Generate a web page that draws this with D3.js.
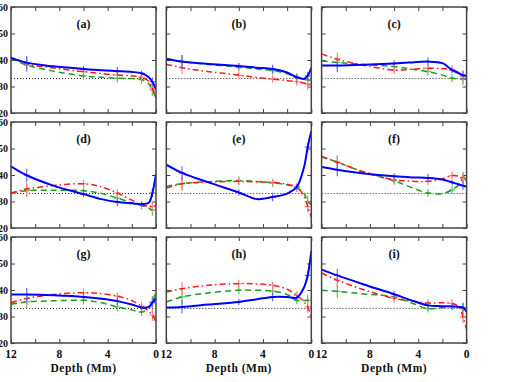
<!DOCTYPE html>
<html>
<head>
<meta charset="utf-8">
<script src="https://cdn.jsdelivr.net/npm/d3@7"></script>
<style>
  body { margin: 0; background: #fff; }
  svg { display: block; }
  text { font-family: "Liberation Serif", "DejaVu Serif", serif; font-weight: bold; fill: #111; }
</style>
</head>
<body>
<div id="chart"></div>
<script>
// depth grid (Mm) shared by every curve
var depths = [12, 10.7, 8.5, 6, 4.5, 3.2, 2, 1.2, 0.6, 0.3, 0];
// depths where error bars are drawn (indices into depths)
var errIdx = [1, 3, 5, 7, 9];
var errBlue = [2.5, 1.2, 1.6, 1.0, 1.6];
var errGreen = [2.5, 1.5, 1.5, 1.5, 2.2];
var errRed = [2.5, 1.5, 1.4, 1.5, 2.2];

var panelNames = ["(a)", "(b)", "(c)", "(d)", "(e)", "(f)", "(g)", "(h)", "(i)"];
var yTicks = [20, 30, 40, 50, 60];
var xTicks = [12, 10, 8, 6, 4, 2, 0];
var xLabels = [12, 8, 4, 0];
var refLevel = 33;

var blueA = [40.9, 39.0, 37.6, 36.6, 36.1, 35.8, 35.5, 35.0, 33.5, 31.8, 29.0];
var redA = [40.9, 38.6, 37.0, 35.6, 34.9, 34.3, 34.0, 33.5, 32.0, 29.4, 25.5];
var greenA = [40.6, 38.1, 35.8, 34.0, 33.5, 33.1, 33.0, 32.6, 31.0, 28.7, 25.5];

var blueB = [40.4, 39.4, 38.5, 37.7, 37.1, 36.6, 35.3, 33.5, 32.9, 34.0, 37.0];
var greenB = [40.6, 39.4, 38.3, 37.3, 36.6, 36.0, 34.8, 33.5, 32.8, 32.5, 32.2];
var redB = [38.4, 37.1, 35.6, 34.3, 33.4, 32.8, 32.2, 31.8, 31.3, 30.9, 30.6];

var blueC = [37.9, 37.9, 38.2, 38.7, 39.1, 39.4, 38.8, 36.2, 34.9, 34.3, 34.0];
var greenC = [39.6, 39.1, 38.3, 37.5, 36.5, 35.6, 34.3, 33.1, 32.9, 32.8, 32.8];
var redC = [42.3, 40.3, 38.0, 36.2, 36.5, 36.9, 36.7, 36.5, 35.0, 33.7, 32.9];

var blueD = [43.3, 39.9, 36.0, 32.8, 30.9, 29.8, 29.3, 29.0, 29.5, 33.2, 40.5];
var redD = [33.2, 34.7, 36.0, 36.7, 35.5, 33.2, 30.5, 28.7, 28.2, 28.1, 28.5];
var greenD = [33.0, 34.1, 34.2, 34.1, 33.0, 31.3, 29.5, 28.5, 27.5, 26.8, 28.0];

var blueE = [43.9, 40.8, 37.2, 33.4, 30.9, 31.7, 33.0, 35.5, 43.0, 50.5, 56.5];
var greenE = [35.7, 36.7, 37.5, 37.9, 37.5, 37.0, 36.3, 35.1, 33.0, 30.0, 28.8];
var redE = [35.1, 36.7, 37.3, 37.6, 37.4, 37.2, 36.5, 35.4, 32.0, 28.1, 24.1];

var blueF = [43.0, 42.0, 40.6, 39.5, 39.1, 38.9, 38.3, 37.2, 36.4, 36.0, 35.5];
var redF = [47.1, 44.8, 41.2, 38.2, 37.6, 37.6, 38.6, 39.8, 39.5, 38.6, 38.0];
var greenF = [46.8, 44.9, 41.0, 37.8, 35.2, 33.2, 33.0, 34.4, 36.5, 39.0, 40.2];

var blueG = [38.3, 38.3, 38.0, 37.4, 36.7, 35.8, 34.5, 33.4, 33.6, 35.2, 36.8];
var redG = [35.2, 36.8, 38.3, 39.0, 38.6, 37.7, 36.0, 33.9, 32.0, 30.5, 27.9];
var greenG = [34.6, 35.5, 35.9, 36.1, 35.2, 33.6, 32.5, 31.7, 33.0, 35.5, 39.2];

var blueH = [33.4, 33.6, 34.5, 35.5, 36.5, 37.4, 37.4, 37.1, 41.0, 45.5, 54.7];
var redH = [39.2, 40.5, 41.8, 42.4, 42.3, 41.8, 40.3, 38.0, 35.5, 33.6, 29.8];
var greenH = [35.5, 37.4, 38.9, 39.9, 39.9, 39.6, 38.3, 36.1, 36.0, 36.1, 36.0];

var blueI = [47.7, 45.5, 42.1, 38.4, 36.0, 34.2, 33.9, 33.8, 33.6, 33.4, 31.7];
var redI = [46.4, 43.7, 40.1, 36.8, 35.8, 35.1, 35.2, 34.9, 33.5, 29.8, 25.4];
var greenI = [39.9, 39.5, 38.5, 37.4, 35.0, 33.0, 33.4, 33.8, 33.5, 33.0, 32.8];

var blues = [blueA, blueB, blueC, blueD, blueE, blueF, blueG, blueH, blueI];
var greens = [greenA, greenB, greenC, greenD, greenE, greenF, greenG, greenH, greenI];
var reds = [redA, redB, redC, redD, redE, redF, redG, redH, redI];

var W = 518, H = 382;
var left0 = 11, top0 = 7, pw = 145, ph = 106, colStep = 155.3, rowStep = 115;

var svg = d3.select('#chart').append('svg')
    .attr('width', W)
    .attr('height', H);

var x = d3.scaleLinear().domain([12, 0]).range([0, pw]);
var y = d3.scaleLinear().domain([20, 60]).range([ph, 0]);

var series = [
    { key: 'green', color: '#1a9f1a', bar: '#5cbf5c', dash: '6,4', w: 1.5, err: errGreen, data: greens },
    { key: 'red', color: '#ff1a1a', bar: '#ff7f7f', dash: '6,3,1.5,3', w: 1.5, err: errRed, data: reds },
    { key: 'blue', color: '#0000ff', bar: '#6a6aff', dash: null, w: 2, err: errBlue, data: blues }
];

var line = d3.line()
    .x((d, i) => x(depths[i]))
    .y(d => y(d))
    .curve(d3.curveCatmullRom.alpha(0.5));

svg.append('defs').append('clipPath')
    .attr('id', 'pclip')
    .append('rect')
    .attr('width', pw)
    .attr('height', ph);

panelNames.forEach((name, p) => {
    let col = p % 3, row = Math.floor(p / 3);
    let g = svg.append('g')
        .attr('transform', `translate(${left0 + col * colStep},${top0 + row * rowStep})`);

    // inward ticks on all four sides
    g.append('g').call(d3.axisBottom(x).tickValues(xTicks).tickSize(-4).tickFormat(''))
        .attr('transform', `translate(0,${ph})`);
    g.append('g').call(d3.axisTop(x).tickValues(xTicks).tickSize(-4).tickFormat(''));
    g.append('g').call(d3.axisLeft(y).tickValues(yTicks).tickSize(-4).tickFormat(''));
    g.append('g').call(d3.axisRight(y).tickValues(yTicks).tickSize(-4).tickFormat(''))
        .attr('transform', `translate(${pw},0)`);
    g.selectAll('.domain').remove();
    g.selectAll('.tick line').attr('stroke', '#444').attr('stroke-width', 1);

    // reference level
    g.append('line')
        .attr('x1', 0).attr('x2', pw)
        .attr('y1', y(refLevel)).attr('y2', y(refLevel))
        .attr('stroke', '#222')
        .attr('stroke-width', 1)
        .attr('stroke-dasharray', '1,2');

    let plot = g.append('g').attr('clip-path', 'url(#pclip)');

    series.forEach(s => {
        let vals = s.data[p];
        // error bars
        errIdx.forEach((k, j) => {
            let cx = x(depths[k]);
            plot.append('line')
                .attr('x1', cx).attr('x2', cx)
                .attr('y1', y(vals[k] - s.err[j])).attr('y2', y(vals[k] + s.err[j]))
                .attr('stroke', s.bar)
                .attr('stroke-width', 1.2);
            plot.append('line')
                .attr('x1', cx - 3).attr('x2', cx + 3)
                .attr('y1', y(vals[k])).attr('y2', y(vals[k]))
                .attr('stroke', s.bar)
                .attr('stroke-width', 1.2);
        });
        plot.append('path')
            .datum(vals)
            .attr('d', line)
            .attr('fill', 'none')
            .attr('stroke', s.color)
            .attr('stroke-width', s.w)
            .attr('stroke-dasharray', s.dash);
    });

    // frame
    g.append('rect')
        .attr('width', pw).attr('height', ph)
        .attr('fill', 'none')
        .attr('stroke', '#444')
        .attr('stroke-width', 1.5);

    g.append('text')
        .attr('x', pw / 2).attr('y', 21)
        .attr('text-anchor', 'middle')
        .style('font-size', '12px')
        .text(name);

    if (col === 0) {
        g.selectAll('.ylab')
            .data(yTicks)
            .enter().append('text')
            .attr('class', 'ylab')
            .attr('x', -3)
            .attr('y', d => y(d) + 3.5)
            .attr('text-anchor', 'end')
            .style('font-size', '10px')
            .text(d => d);
    }

    if (row === 2) {
        g.selectAll('.xlab')
            .data(xLabels)
            .enter().append('text')
            .attr('class', 'xlab')
            .attr('x', d => x(d))
            .attr('y', ph + 15)
            .attr('text-anchor', 'middle')
            .style('font-size', '11.5px')
            .text(d => d);
        g.append('text')
            .attr('x', pw / 2).attr('y', ph + 29)
            .attr('text-anchor', 'middle')
            .style('font-size', '11.5px')
            .style('letter-spacing', '0.5px')
            .text('Depth (Mm)');
    }
});
</script>
</body>
</html>
